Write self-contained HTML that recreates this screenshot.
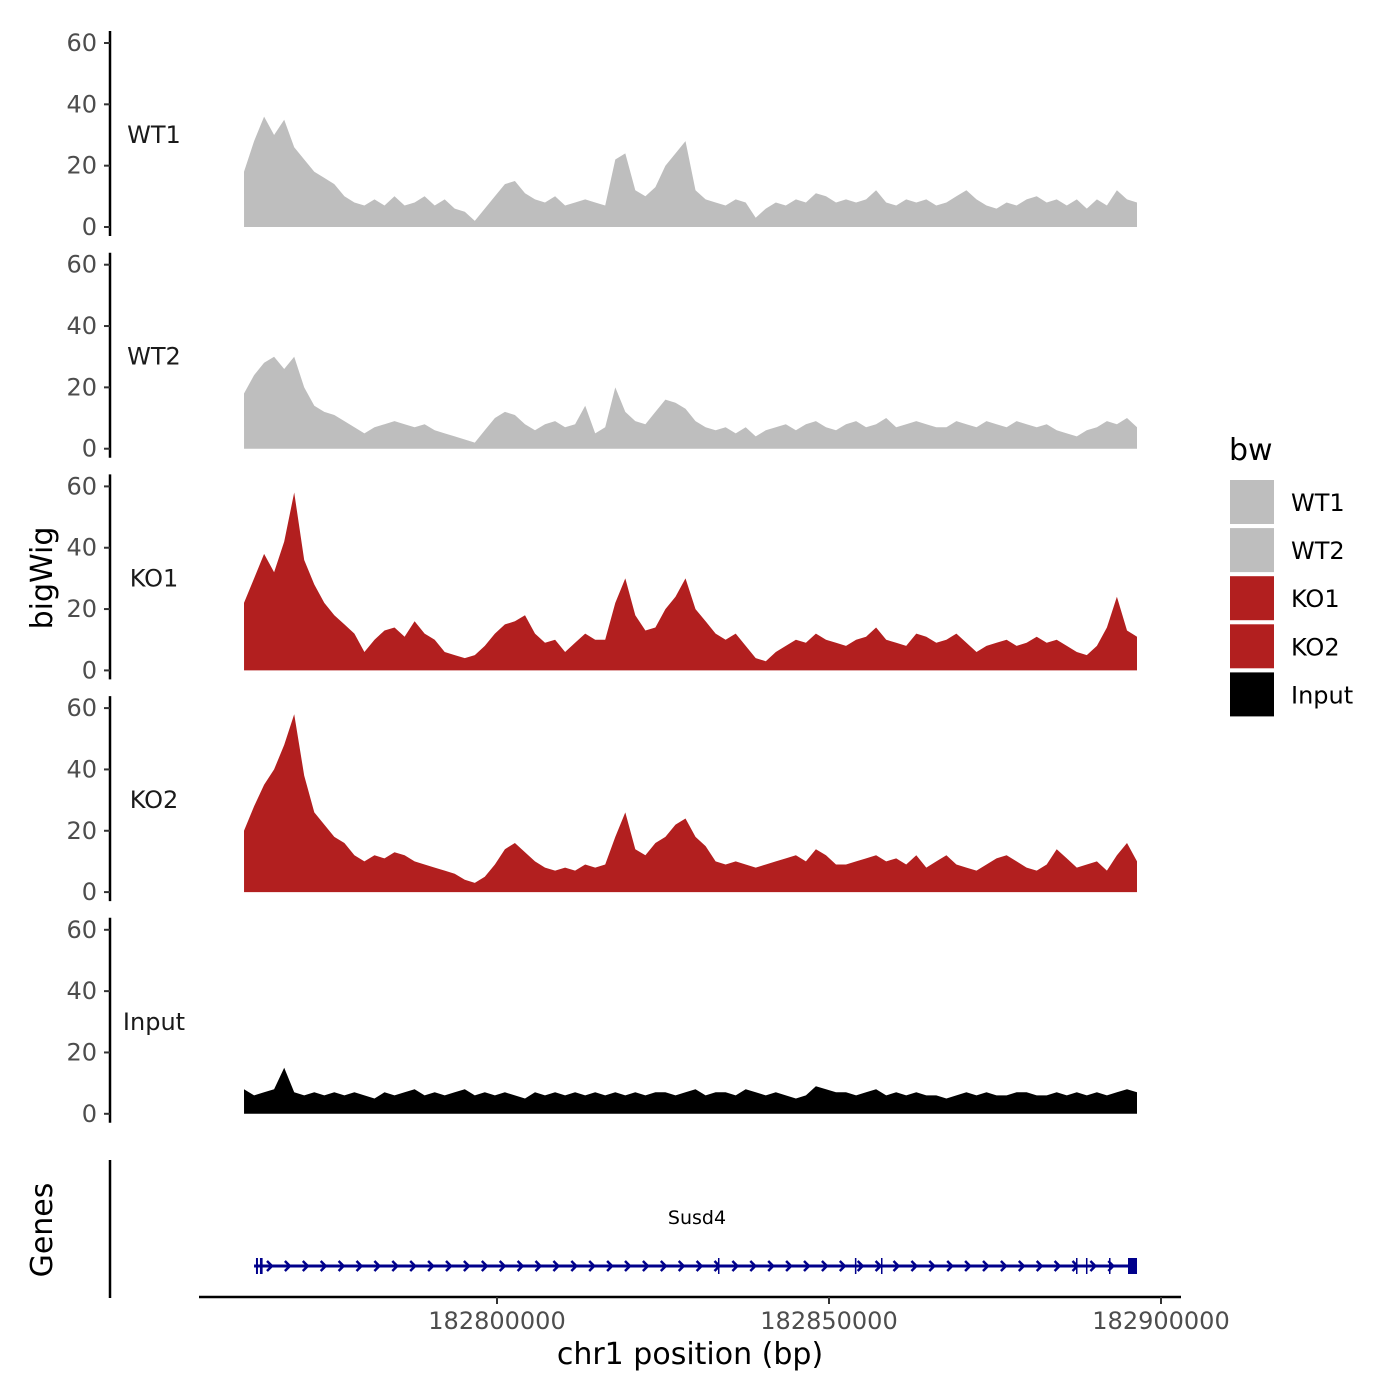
<!DOCTYPE html>
<html><head><meta charset="utf-8"><style>
html,body{margin:0;padding:0;background:#fff;}
svg{display:block;font-family:"DejaVu Sans","Liberation Sans",sans-serif;}
</style></head><body>
<svg id="chart" width="1400" height="1400" viewBox="0 0 1400 1400" xmlns="http://www.w3.org/2000/svg">
<rect width="1400" height="1400" fill="#fff"/>
<g id="tracks"></g>
<g id="genes"></g>
<text x="52" y="578" font-size="30" text-anchor="middle" transform="rotate(-90 52 578)">bigWig</text>
<text x="52" y="1230" font-size="30" text-anchor="middle" transform="rotate(-90 52 1230)">Genes</text>
<text x="690" y="1364" font-size="30" text-anchor="middle">chr1 position (bp)</text>
<g id="legend">
<text x="1229" y="460" font-size="30">bw</text>
</g>
</svg>
<script>
const trackNames = ["WT1","WT2","KO1","KO2","Input"];
const trackColors = ["#bebebe","#bebebe","#b21f1f","#b21f1f","#000000"];
const startBp = 182761904;
const endBp = 182896386;
const wt1 = [18,28,36,30,35,26,22,18,16,14, 10,8,7,9,7,10,7,8,10,7, 9,6,5,2,6,10,14,15,11,9, 8,10,7,8,9,8,7,22,24,12, 10,13,20,24,28,12,9,8,7,9, 8,3,6,8,7,9,8,11,10,8, 9,8,9,12,8,7,9,8,9,7, 8,10,12,9,7,6,8,7,9,10, 8,9,7,9,6,9,7,12,9,8];
const wt2 = [18,24,28,30,26,30,20,14,12,11, 9,7,5,7,8,9,8,7,8,6, 5,4,3,2,6,10,12,11,8,6, 8,9,7,8,14,5,7,20,12,9, 8,12,16,15,13,9,7,6,7,5, 7,4,6,7,8,6,8,9,7,6, 8,9,7,8,10,7,8,9,8,7, 7,9,8,7,9,8,7,9,8,7, 8,6,5,4,6,7,9,8,10,7];
const ko1 = [22,30,38,32,42,58,36,28,22,18, 15,12,6,10,13,14,11,16,12,10, 6,5,4,5,8,12,15,16,18,12, 9,10,6,9,12,10,10,22,30,18, 13,14,20,24,30,20,16,12,10,12, 8,4,3,6,8,10,9,12,10,9, 8,10,11,14,10,9,8,12,11,9, 10,12,9,6,8,9,10,8,9,11, 9,10,8,6,5,8,14,24,13,11];
const ko2 = [20,28,35,40,48,58,38,26,22,18, 16,12,10,12,11,13,12,10,9,8, 7,6,4,3,5,9,14,16,13,10, 8,7,8,7,9,8,9,18,26,14, 12,16,18,22,24,18,15,10,9,10, 9,8,9,10,11,12,10,14,12,9, 9,10,11,12,10,11,9,12,8,10, 12,9,8,7,9,11,12,10,8,7, 9,14,11,8,9,10,7,12,16,10];
const inputSig = [8,6,7,8,15,7,6,7,6,7, 6,7,6,5,7,6,7,8,6,7, 6,7,8,6,7,6,7,6,5,7, 6,7,6,7,6,7,6,7,6,7, 6,7,7,6,7,8,6,7,7,6, 8,7,6,7,6,5,6,9,8,7, 7,6,7,8,6,7,6,7,6,6, 5,6,7,6,7,6,6,7,7,6, 6,7,6,7,6,7,6,7,8,7];
const yTicks = [0,20,40,60];
const xTicks = [182800000,182850000,182900000];
const geneStart = 182763410, geneEnd = 182896386;
const exons = [[182763700,182764000],[182764300,182764700],[182833280,182833380],[182853900,182854000],[182857830,182857930],[182887200,182887300],[182888700,182888800],[182892170,182892270],[182895030,182896386]];

const series = [wt1,wt2,ko1,ko2,inputSig];
const NS = "http://www.w3.org/2000/svg";
function xs(bp){ return 497 + (bp-182800000)*332/50000; }
function ysFor(i){ const base = 227 + i*221.7; return v => base - v*184/60; }
function mk(tag, attrs, parent){ const e=document.createElementNS(NS,tag); for(const k in attrs) e.setAttribute(k,attrs[k]); parent.appendChild(e); return e; }

const tracks = document.getElementById('tracks');
series.forEach((vals,i)=>{
  const ys = ysFor(i);
  const g = mk('g',{},tracks);
  
  
  const n = vals.length;
  let d = 'M' + xs(startBp) + ',' + ys(0);
  vals.forEach((v,j)=>{ const bp = startBp + (endBp-startBp)*j/(n-1); d += 'L' + xs(bp).toFixed(1) + ',' + ys(v).toFixed(1); });
  d += 'L' + xs(endBp) + ',' + ys(0) + 'Z';
  const p = mk('path',{d:d, fill:trackColors[i]}, g);
  
  
  const ax = mk('line',{x1:110,x2:110,y1:ys(60)-12,y2:ys(0)+9,stroke:'#000','stroke-width':2.5},g);
  
  
  yTicks.forEach(t=>{
    const tk = mk('line',{x1:104,x2:110,y1:ys(t),y2:ys(t),stroke:'#333','stroke-width':2},g);
    
    
    const tl = mk('text',{x:97,y:ys(t)+8,'font-size':24,fill:'#4d4d4d','text-anchor':'end'},g);
    tl.textContent = t;
    
    
  });
  const lb = mk('text',{x:154,y:ys(30)+8,'font-size':24,'text-anchor':'middle',fill:'#1a1a1a'},g);
  lb.textContent = trackNames[i];
  
  
});

const gg = document.getElementById('genes');
const gy = 1266;
let e = mk('line',{x1:110,x2:110,y1:1160,y2:1298,stroke:'#000','stroke-width':2.5},gg);


e = mk('line',{x1:199,x2:1181,y1:1297,y2:1297,stroke:'#000','stroke-width':2.5},gg);


xTicks.forEach(t=>{
  const tk = mk('line',{x1:xs(t),x2:xs(t),y1:1297,y2:1304,stroke:'#333','stroke-width':2},gg);
  
  
  const tl = mk('text',{x:xs(t),y:1329,'font-size':24,fill:'#4d4d4d','text-anchor':'middle'},gg);
  tl.textContent = t;
  
  
});
e = mk('line',{x1:xs(geneStart),x2:xs(geneEnd),y1:gy,y2:gy,stroke:'#00008b','stroke-width':3},gg);


for(let x=270; x<1125; x+=17.9){
  const a = mk('path',{d:`M${x-3},${gy-5}L${x+2},${gy}L${x-3},${gy+5}`,fill:'none',stroke:'#00008b','stroke-width':2.5},gg);
  
  
}
exons.forEach(ex=>{
  const x1 = xs(ex[0]), x2 = Math.max(xs(ex[1]), x1+1.5);
  const r = mk('rect',{x:x1,y:gy-8,width:x2-x1,height:16,fill:'#00008b'},gg);
  
  
});
e = mk('text',{x:697,y:1224,'font-size':19,'text-anchor':'middle'},gg);
e.textContent = 'Susd4';



const lg = document.getElementById('legend');
trackNames.forEach((nm,i)=>{
  const y = 480 + i*48.1;
  const r = mk('rect',{x:1230,y:y,width:44,height:44,fill:trackColors[i]},lg);
  
  
  const t = mk('text',{x:1291,y:y+31,'font-size':24},lg);
  t.textContent = nm;
  
  
});
</script>
</body></html>
